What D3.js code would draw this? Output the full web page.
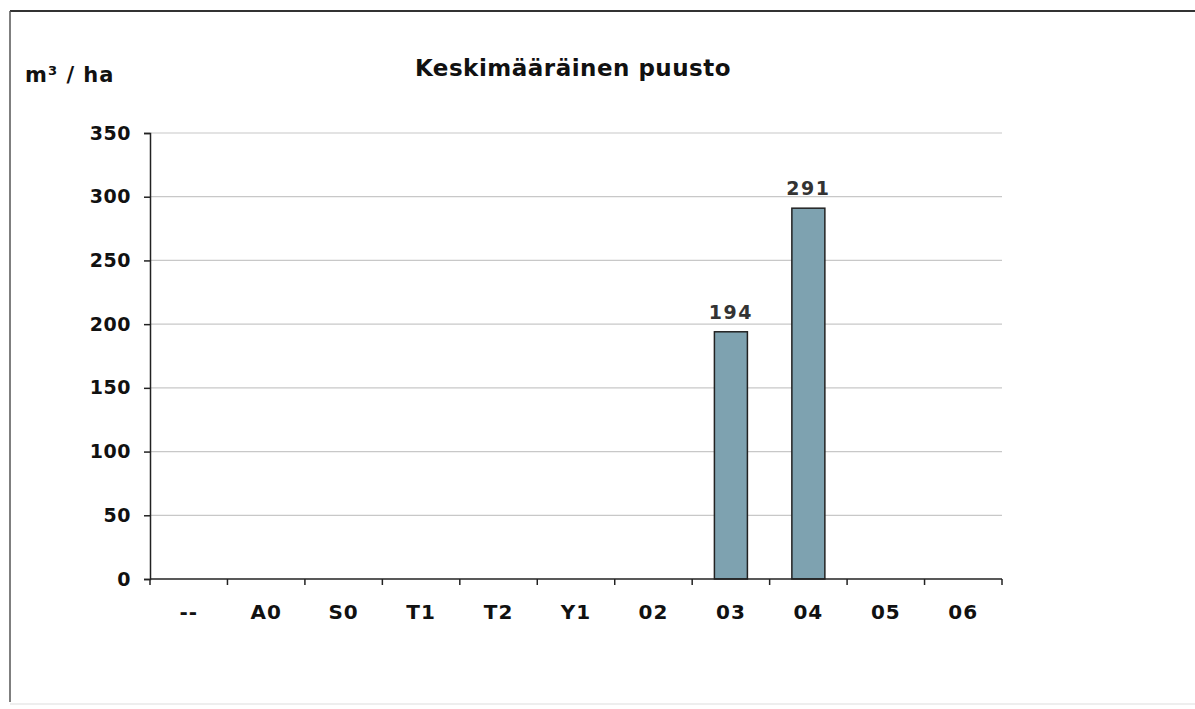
<!DOCTYPE html>
<html>
<head>
<meta charset="utf-8">
<script src="https://cdn.jsdelivr.net/npm/d3@7"></script>
<style>
  body { margin: 0; background: #fff; }
  text { font-family: "DejaVu Sans", Verdana, sans-serif; font-weight: bold; }
</style>
</head>
<body>
<div id="chart"></div>
<script>
// data
var categories = ["--", "A0", "S0", "T1", "T2", "Y1", "02", "03", "04", "05", "06"];
var values = [0, 0, 0, 0, 0, 0, 0, 194, 291, 0, 0];
var yTicks = [0, 50, 100, 150, 200, 250, 300, 350];

var width = 1195, height = 709;
var plotLeft = 150, plotRight = 1002, plotTop = 133, plotBottom = 579;

var svg = d3.select("#chart").append("svg")
    .attr("width", width)
    .attr("height", height);

// frame around the chart
svg.append("line").attr("x1", 10).attr("x2", width).attr("y1", 11).attr("y2", 11)
    .attr("stroke", "#333").attr("stroke-width", 2);
svg.append("line").attr("x1", 10).attr("x2", 10).attr("y1", 11).attr("y2", 702)
    .attr("stroke", "#555").attr("stroke-width", 1.5);
svg.append("line").attr("x1", 10).attr("x2", width).attr("y1", 704).attr("y2", 704)
    .attr("stroke", "#ddd").attr("stroke-width", 1);

var x = d3.scaleBand().domain(categories).range([plotLeft, plotRight]).paddingInner(0).paddingOuter(0);
var y = d3.scaleLinear().domain([0, 350]).range([plotBottom, plotTop]);

// gridlines
svg.append("g").selectAll("line").data(yTicks.slice(1)).join("line")
    .attr("x1", plotLeft).attr("x2", plotRight)
    .attr("y1", function(d) { return y(d); }).attr("y2", function(d) { return y(d); })
    .attr("stroke", "#c8c8c8").attr("stroke-width", 1.2);

var barData = values.map(function(v, i) { return {c: categories[i], v: v}; })
    .filter(function(d) { return d.v > 0; });

// bars
var barW = 33;
svg.append("g").selectAll("rect").data(barData).join("rect")
    .attr("x", function(d) { return x(d.c) + x.bandwidth() / 2 - barW / 2; })
    .attr("y", function(d) { return y(d.v); })
    .attr("width", barW)
    .attr("height", function(d) { return y(0) - y(d.v); })
    .attr("fill", "#7ea2b0")
    .attr("stroke", "#222").attr("stroke-width", 1.5);

// value labels
svg.append("g").selectAll("text").data(barData).join("text")
    .attr("x", function(d) { return x(d.c) + x.bandwidth() / 2; })
    .attr("y", function(d) { return y(d.v) - 13; })
    .attr("text-anchor", "middle")
    .style("font-size", "19px")
    .style("letter-spacing", "1.5px")
    .attr("fill", "#333")
    .text(function(d) { return d.v; });

// y axis
var yAxis = d3.axisLeft(y).tickValues(yTicks).tickSize(6).tickPadding(13);
var gy = svg.append("g").attr("transform", "translate(" + plotLeft + ",0)").call(yAxis);
gy.select(".domain").attr("stroke", "#222").attr("stroke-width", 1.5);
gy.selectAll(".tick line").attr("stroke", "#222").attr("stroke-width", 1.5);
gy.selectAll(".tick text").style("font-size", "19px").attr("fill", "#111")
    .style("letter-spacing", "0.5px")
    .style("font-family", "'DejaVu Sans', Verdana, sans-serif").style("font-weight", "bold");

// x axis: ticks between categories
var xTickPos = categories.map(function(c) { return x(c); }).concat([plotRight]);
var gx = svg.append("g");
gx.append("line").attr("x1", plotLeft).attr("x2", plotRight).attr("y1", plotBottom).attr("y2", plotBottom)
    .attr("stroke", "#222").attr("stroke-width", 1.5);
gx.selectAll("line.tick").data(xTickPos).join("line").attr("class", "tick")
    .attr("x1", function(d) { return d; }).attr("x2", function(d) { return d; })
    .attr("y1", plotBottom).attr("y2", plotBottom + 6)
    .attr("stroke", "#222").attr("stroke-width", 1.5);
gx.selectAll("text").data(categories).join("text")
    .attr("x", function(d) { return x(d) + x.bandwidth() / 2; })
    .attr("y", plotBottom + 40)
    .attr("text-anchor", "middle")
    .style("font-size", "20px")
    .style("letter-spacing", "1px")
    .attr("fill", "#111")
    .text(function(d) { return d; });

// titles
svg.append("text").attr("x", 573).attr("y", 76).attr("text-anchor", "middle")
    .style("font-size", "23px").style("letter-spacing", "0.5px")
    .attr("fill", "#111").text("Keskimääräinen puusto");
svg.append("text").attr("x", 25).attr("y", 82)
    .style("font-size", "21px").style("letter-spacing", "1px")
    .attr("fill", "#111").text("m³ / ha");
</script>
</body>
</html>
